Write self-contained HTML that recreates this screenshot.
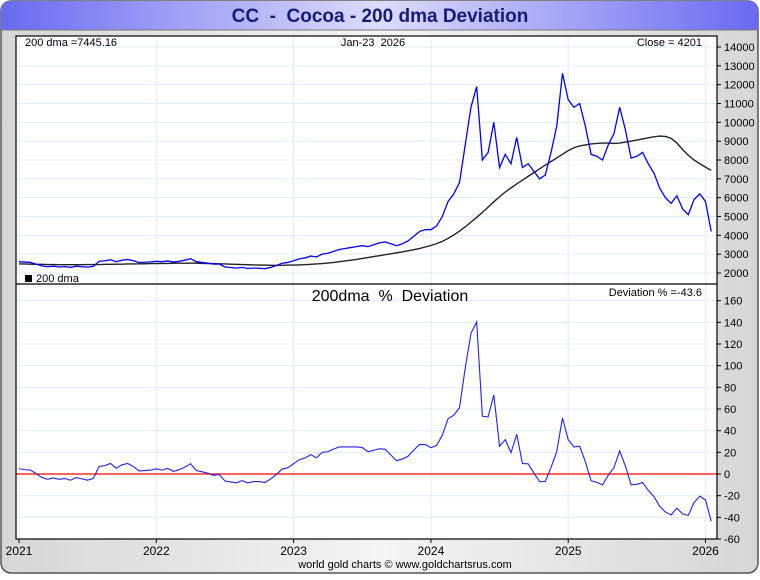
<!DOCTYPE html>
<html><head><meta charset="utf-8"><style>
body{margin:0;width:760px;height:575px;overflow:hidden;background:#fff;font-family:"Liberation Sans",sans-serif}
</style></head><body>
<svg width="760" height="575" xmlns="http://www.w3.org/2000/svg">
<defs>
<linearGradient id="tb" x1="0" x2="1" y1="0" y2="0"><stop offset="0" stop-color="#6a6af2"/><stop offset="0.5" stop-color="#dcdcfb"/><stop offset="1" stop-color="#6a6af2"/></linearGradient>
<linearGradient id="bg" x1="0" x2="1" y1="0" y2="0"><stop offset="0" stop-color="#d6d6d6"/><stop offset="0.5" stop-color="#f4f4f4"/><stop offset="1" stop-color="#d6d6d6"/></linearGradient>
</defs>
<rect x="1" y="1" width="757" height="572" rx="10" fill="url(#bg)" stroke="#555" stroke-width="1.5"/>
<path d="M1,30 L1,11 Q1,1 11,1 L748,1 Q758,1 758,11 L758,30 Z" fill="url(#tb)"/>
<line x1="1" y1="30" x2="758" y2="30" stroke="#777" stroke-width="1"/>
<text x="380" y="22" text-anchor="middle" font-size="19" font-weight="bold" fill="#1a1a78">CC &#160;- &#160;Cocoa - 200 dma Deviation</text>
<rect x="16" y="36" width="701" height="503" fill="#fff"/>
<g id="grid"></g>
<g id="marks"></g>
<rect x="16" y="36" width="701" height="503" fill="none" stroke="#000" stroke-width="1.2"/>
<line x1="16" y1="284" x2="717" y2="284" stroke="#000" stroke-width="1.2"/>
<g id="axes" font-size="11" fill="#000"></g>
<text x="25" y="46" font-size="11">200 dma =7445.16</text>
<text x="373" y="46" text-anchor="middle" font-size="11">Jan-23 &#160;2026</text>
<text x="702" y="46" text-anchor="end" font-size="11">Close = 4201</text>
<rect x="25" y="275" width="7" height="7" fill="#000"/>
<text x="36" y="282" font-size="11">200 dma</text>
<text x="390" y="301" text-anchor="middle" font-size="16">200dma &#160;% &#160;Deviation</text>
<text x="702" y="296" text-anchor="end" font-size="11">Deviation % =-43.6</text>
<text x="405" y="568" text-anchor="middle" font-size="11">world gold charts © www.goldchartsrus.com</text>
</svg>
<script>
const years=[2021,2022,2023,2024,2025,2026];
const priceTicks=[2000,3000,4000,5000,6000,7000,8000,9000,10000,11000,12000,13000,14000];
const devTicks=[-60,-40,-20,0,20,40,60,80,100,120,140,160];
const price=[2600,2580,2560,2470,2380,2330,2360,2320,2340,2300,2360,2330,2310,2350,2620,2650,2700,2600,2680,2720,2650,2560,2570,2590,
2620,2600,2640,2580,2620,2680,2760,2600,2560,2520,2470,2480,2320,2290,2260,2300,2240,2260,2250,2230,2300,2400,2520,2560,
2650,2750,2800,2900,2850,3000,3050,3150,3250,3300,3350,3400,3450,3400,3500,3600,3650,3550,3450,3550,3700,3950,4200,4300,
4300,4500,5000,5800,6200,6800,8800,10800,11900,8000,8400,10000,7600,8300,7800,9200,7600,7800,7400,7000,7200,8400,9800,12600,
11200,10800,11000,9800,8300,8200,8000,8800,9400,10800,9600,8100,8200,8400,7800,7300,6500,6000,5700,6100,5400,5100,5900,6200,
5800,4201];
const dma=[2480,2480,2470,2460,2460,2450,2450,2440,2440,2440,2440,2440,2450,2450,2450,2460,2460,2470,2470,2480,2480,2490,2490,2500,
2500,2510,2510,2520,2520,2520,2520,2520,2510,2500,2500,2490,2480,2470,2460,2450,2440,2430,2420,2420,2410,2410,2410,2420,
2420,2430,2440,2460,2480,2500,2530,2560,2600,2640,2680,2720,2770,2820,2870,2920,2970,3020,3070,3120,3180,3240,3300,3380,
3460,3560,3680,3840,4020,4220,4450,4700,4950,5220,5500,5780,6050,6300,6520,6730,6930,7130,7330,7530,7730,7920,8110,8300,
8500,8650,8750,8800,8850,8880,8900,8900,8880,8900,8950,9000,9060,9120,9180,9230,9270,9250,9150,8900,8550,8250,8000,7800,
7620,7445];
const NS="http://www.w3.org/2000/svg";
const xYear=t=>19+(t-2021)*137.3;
const xIdx=i=>xYear(2021+i/24);
const yP=v=>47+(14000-v)*0.018833;
const yD=v=>474-v*1.0833;
function mk(tag,attrs,parent){const e=document.createElementNS(NS,tag);for(const k in attrs)e.setAttribute(k,attrs[k]);parent.appendChild(e);return e;}
const grid=document.getElementById('grid'),marks=document.getElementById('marks'),axes=document.getElementById('axes');
years.forEach(y=>{const x=xYear(y);
 const g=mk('line',{x1:x,x2:x,y1:36,y2:539,stroke:'#e2ecf6','stroke-width':1},grid);
 
 
 mk('line',{x1:x,x2:x,y1:539,y2:543,stroke:'#000'},axes);
 const t=mk('text',{x:x,y:555,'text-anchor':'middle','font-size':12},axes);t.textContent=y;
 
 
});
priceTicks.forEach(v=>{const y=yP(v);
 const g=mk('line',{x1:16,x2:717,y1:y,y2:y,stroke:'#e2ecf6'},grid);
 
 
 mk('line',{x1:717,x2:721,y1:y,y2:y,stroke:'#000'},axes);
 const t=mk('text',{x:724,y:y+4},axes);t.textContent=v;
 
 
});
devTicks.forEach(v=>{const y=yD(v);
 const g=mk('line',{x1:16,x2:717,y1:y,y2:y,stroke:'#e2ecf6'},grid);
 
 
 mk('line',{x1:717,x2:721,y1:y,y2:y,stroke:'#000'},axes);
 const t=mk('text',{x:724,y:y+4},axes);t.textContent=v;
 
 
});
const zl=mk('line',{x1:16,x2:717,y1:yD(0),y2:yD(0),stroke:'#f00','stroke-width':1.2},marks);


const dl=mk('polyline',{points:dma.map((v,i)=>xIdx(i)+','+yP(v)).join(' '),fill:'none',stroke:'#222','stroke-width':1.4},marks);


const pl=mk('polyline',{points:price.map((v,i)=>xIdx(i)+','+yP(v)).join(' '),fill:'none',stroke:'#0000ff','stroke-width':1.3},marks);


const dev=price.map((v,i)=>(v/dma[i]-1)*100);
const vl=mk('polyline',{points:dev.map((v,i)=>xIdx(i)+','+yD(v)).join(' '),fill:'none',stroke:'#2222ee','stroke-width':1.1},marks);


</script>
</body></html>
